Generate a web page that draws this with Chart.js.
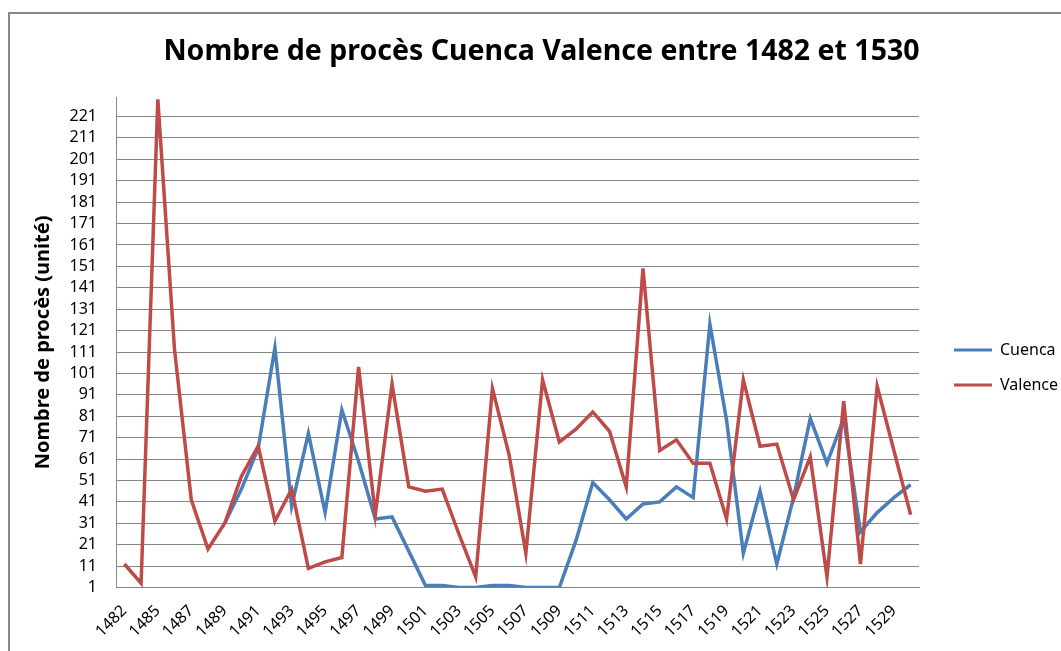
<!DOCTYPE html>
<html>
<head>
<meta charset="utf-8">
<script src="https://cdn.jsdelivr.net/npm/chart.js@4.4.0/dist/chart.umd.min.js"></script>
<style>
html, body { margin: 0; padding: 0; background: #fff; overflow: hidden; }
#frame { position: absolute; left: 8px; top: 12px; width: 1100px; height: 700px; border: 2px solid #888; }
#wrap { position: absolute; left: 0; top: 0; width: 1061px; height: 651px; }
</style>
</head>
<body>
<div id="frame"></div>
<div id="wrap"><canvas id="chart"></canvas></div>
<script>
// années (1483 absente de la série)
var years = ["1482", "1484", "1485", "1486", "1487", "1488", "1489", "1490", "1491", "1492",
    "1493", "1494", "1495", "1496", "1497", "1498", "1499", "1500", "1501", "1502",
    "1503", "1504", "1505", "1506", "1507", "1508", "1509", "1510", "1511", "1512",
    "1513", "1514", "1515", "1516", "1517", "1518", "1519", "1520", "1521", "1522",
    "1523", "1524", "1525", "1526", "1527", "1528", "1529", "1530"];

var cuenca = [null, null, null, null, null, null, 31, 47, 66, 113,
    39, 73, 36, 84, 60, 33, 34, 18, 2, 2,
    1, 1, 2, 2, 1, 1, 1, 23, 50, 42,
    33, 40, 41, 48, 43, 124, 79, 17, 46, 12,
    43, 80, 59, 80, 27, 36, 43, 49];

var valence = [12, 3, 229, 112, 42, 19, 31, 53, 67, 32,
    47, 10, 13, 15, 104, 35, 96, 48, 46, 47,
    26, 6, 94, 63, 17, 98, 69, 75, 83, 74,
    48, 150, 65, 70, 59, 59, 33, 98, 67, 68,
    42, 62, 6, 88, 12, 95, 65, 35];

var yTicks = [1, 11, 21, 31, 41, 51, 61, 71, 81, 91, 101, 111, 121, 131, 141, 151,
    161, 171, 181, 191, 201, 211, 221];

Chart.defaults.font.family = "'Noto Sans', sans-serif";
Chart.defaults.color = "#000";

new Chart("chart", {
    type: "line",
    data: {
        labels: years,
        datasets: [{
            label: "Cuenca",
            data: cuenca,
            borderColor: "#4A7EBB",
            backgroundColor: "#4A7EBB",
            borderWidth: 3.5,
            pointRadius: 0,
            tension: 0,
            order: 1
        },
        {
            label: "Valence",
            data: valence,
            borderColor: "#BE4B48",
            backgroundColor: "#BE4B48",
            borderWidth: 3.5,
            pointRadius: 0,
            tension: 0,
            order: 0
        }]
    },
    options: {
        responsive: true,
        maintainAspectRatio: false,
        animation: false,
        layout: {
            padding: { left: 22, right: 0, top: 0, bottom: 4 }
        },
        plugins: {
            title: {
                display: true,
                text: "Nombre de procès Cuenca Valence entre 1482 et 1530",
                color: "#000",
                font: { size: 28.5, weight: "bold" },
                padding: { top: 35, bottom: 28 }
            },
            legend: {
                position: "right",
                maxWidth: 126,
                title: {
                    display: true,
                    text: " ",
                    padding: 0,
                    font: { size: 20, lineHeight: 4.4 }
                },
                labels: {
                    boxWidth: 38,
                    boxHeight: 3,
                    padding: 19,
                    color: "#000",
                    font: { size: 16 },
                    sort: function (a, b) { return a.datasetIndex - b.datasetIndex; },
                    generateLabels: function (chart) {
                        return Chart.defaults.plugins.legend.labels.generateLabels(chart).map(function (l) {
                            l.lineWidth = 0;
                            l.fillStyle = l.strokeStyle;
                            return l;
                        });
                    }
                }
            },
            tooltip: { enabled: false }
        },
        scales: {
            x: {
                offset: true,
                grid: { display: false },
                border: { color: "#868686" },
                ticks: {
                    autoSkip: false,
                    minRotation: 45,
                    maxRotation: 45,
                    padding: 6,
                    color: "#000",
                    font: { size: 16 },
                    callback: function (value, index) {
                        return index % 2 === 0 ? this.getLabelForValue(value) : "";
                    }
                }
            },
            y: {
                min: 1,
                max: 230,
                afterBuildTicks: function (scale) {
                    scale.ticks = yTicks.map(function (v) { return { value: v }; });
                },
                afterFit: function (scale) { scale.width = 94; },
                grid: { color: "#868686", drawTicks: false },
                border: { color: "#868686" },
                ticks: { padding: 19, color: "#000", font: { size: 16 } },
                title: {
                    display: true,
                    text: "Nombre de procès (unité)",
                    color: "#000",
                    font: { size: 20, weight: "bold" },
                    padding: { top: 9, bottom: 7 }
                }
            },
            // espace vide entre le graphique et la légende
            y2: {
                position: "right",
                grid: { display: false },
                border: { display: false },
                ticks: { display: false },
                afterFit: function (scale) { scale.width = 16; }
            }
        }
    }
});
</script>
</body>
</html>
